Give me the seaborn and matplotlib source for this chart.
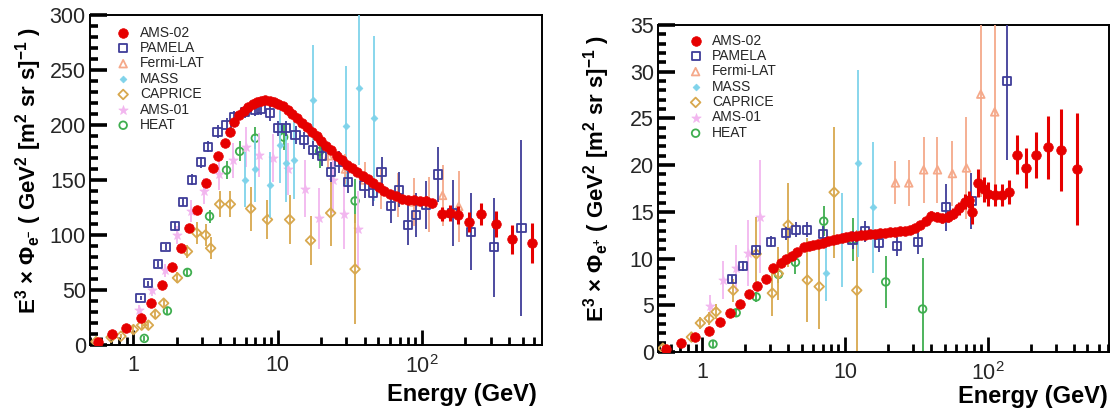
import numpy as np
import pandas as pd
import matplotlib
matplotlib.use("Agg")
import matplotlib.pyplot as plt
from matplotlib.ticker import FixedLocator, NullFormatter
import seaborn as sns

# ---------------- electron flux, E^3 x Phi(e-) ----------------
ele_ams02_E = [0.57, 0.71, 0.89, 1.12, 1.33, 1.57, 1.84, 2.13, 2.43, 2.78, 3.16, 3.54, 3.86,
               4.28, 4.64, 5.0, 5.4, 5.8, 6.2, 6.7, 7.2, 7.7, 8.2, 8.8, 9.4, 10.1, 10.9, 11.7,
               12.6, 13.6, 14.7, 15.9, 17.2, 18.6, 20.1, 21.8, 23.6, 25.6, 27.8, 30.2, 32.8,
               35.7, 38.8, 42.3, 46.1, 50.3, 55.0, 60.2, 66.0, 72.5, 79.8, 88.0, 97.2, 107,
               118, 137, 156, 178, 212, 257, 324, 420, 580]
ele_ams02_F = [3, 10, 15.5, 25, 38, 54.5, 70.5, 88.5, 106.5, 123, 147, 161, 172, 184, 194,
               203, 209, 213, 216, 219, 221, 222, 223, 222, 221, 219, 217, 214, 210, 206, 202,
               198, 194, 190, 185, 181, 177, 172, 168, 164, 161, 157, 154, 151, 147, 144, 140,
               137, 135, 133, 132, 132, 131, 131, 129, 119, 120, 118, 112, 119, 110, 96, 93]
ele_ams02_err = [1, 1, 1, 1, 1.5, 1.5, 2, 2, 2.5, 2.5, 3, 3, 3, 3, 3, 3, 3, 3, 3, 3, 3, 3,
                 3, 3, 3, 3, 3, 3, 3, 3, 3, 3, 3, 3, 3, 3, 3, 3, 3, 3, 3, 3, 3, 3, 3, 3, 3,
                 3, 3, 3, 3, 3.5, 3.5, 4, 4, 6, 7, 8, 9, 10, 12, 13, 18]

ele_pamela_E = [1.12, 1.27, 1.47, 1.67, 1.93, 2.2, 2.53, 2.92, 3.31, 3.83, 4.42, 5.0, 5.9,
                7.0, 7.7, 8.8, 10.0, 11.5, 13.3, 15.2, 17.5, 20.2, 23.3, 26.5, 30.6, 40,
                45.7, 52.5, 61, 69.6, 80, 91, 106, 129, 163, 218, 316, 490]
ele_pamela_F = [43, 56, 73.6, 89, 108, 130, 150, 166, 180, 194, 200, 207, 212, 214, 215, 211,
                197, 197, 191, 186, 177, 172, 157, 166, 148, 145, 138, 157, 126, 141, 109,
                118, 127, 155, 120, 103, 89, 106]
ele_pamela_err = [2, 2, 3, 3, 4, 4, 5, 5, 5, 6, 6, 6, 6, 6, 6, 7, 7, 7, 8, 8, 8, 9, 9, 10,
                  10, 11, 12, 14, 15, 16, 18, 20, 22, 25, 30, 35, 45, 80]

ele_fermi_E = [22.5, 29.5, 40, 52, 68, 88, 112, 139, 180]
ele_fermi_F = [172, 160, 150, 142, 136, 130, 128, 136, 126]
ele_fermi_err = [12, 14, 16, 18, 20, 22, 25, 28, 32]

ele_mass_E = [5.9, 7.0, 8.8, 10.3, 11.5, 12.9, 17.5, 30.0, 36.6, 46.4]
ele_mass_F = [150, 160, 145, 182, 165, 168, 223, 199, 234, 206]
ele_mass_err = [25, 30, 30, 35, 35, 35, 50, 55, 70, 75]

ele_caprice_E = [0.55, 0.7, 0.82, 1.0, 1.14, 1.27, 1.42, 1.62, 2.02, 2.37, 2.74, 3.16, 3.43,
                 3.96, 4.7, 6.5, 8.5, 12.1, 16.9, 23.3, 34.4]
ele_caprice_F = [3, 7, 8, 14, 18, 18, 28, 38, 61, 85, 102, 100, 88, 128, 128, 124, 114, 114,
                 95, 120, 69]
ele_caprice_err = [1, 2, 2, 3, 3, 3, 4, 4, 5, 6, 10, 10, 10, 12, 12, 20, 18, 22, 22, 30, 50]

ele_ams01_E = [1.1, 1.35, 1.65, 2.0, 2.5, 3.1, 3.9, 4.9, 6.0, 7.4, 9.3, 11.8, 15.4, 19.2, 24,
               29, 36]
ele_ams01_F = [32, 50, 68, 100, 122, 140, 155, 168, 180, 173, 170, 160, 142, 115, 150, 119, 105]
ele_ams01_err = [4, 5, 6, 8, 10, 12, 14, 16, 18, 20, 22, 24, 26, 28, 30, 32, 35]

ele_heat_E = [1.19, 1.72, 2.37, 3.37, 4.42, 5.45, 7.0, 11.0, 19.5, 34.4]
ele_heat_F = [6, 31, 66, 117, 159, 176, 188, 189, 176, 131]
ele_heat_err = [2, 3, 4, 6, 8, 9, 10, 12, 15, 20]

# ---------------- positron flux, E^3 x Phi(e+) ----------------
pos_ams02_E = [0.56, 0.71, 0.89, 1.12, 1.34, 1.57, 1.85, 2.14, 2.43, 2.81, 3.15, 3.58, 3.89,
               4.28, 4.65, 5.2, 5.6, 6.0, 6.5, 7.0, 7.6, 8.2, 8.8, 9.5, 10.2, 11.0, 11.9,
               12.9, 13.9, 15.0, 16.2, 17.5, 19.0, 20.6, 22.3, 24.2, 26.2, 28.5, 31.0, 33.8,
               36.8, 40.1, 43.9, 48.0, 52.5, 57.5, 63.0, 69.5, 73.5, 78, 85, 94, 100, 112,
               125, 140, 160, 185, 218, 265, 325, 425]
pos_ams02_F = [0.3, 1.0, 1.6, 2.2, 3.2, 4.2, 5.1, 6.2, 7.1, 7.8, 9.0, 9.5, 10.0, 10.3, 10.7,
               11.2, 11.3, 11.5, 11.6, 11.7, 11.9, 12.0, 12.1, 12.2, 12.3, 12.4, 12.4, 12.5,
               12.5, 12.6, 12.6, 12.7, 12.7, 12.8, 12.8, 12.9, 13.0, 13.1, 13.3, 13.6, 14.0,
               14.6, 14.5, 14.3, 14.5, 14.8, 15.4, 16.1, 16.3, 15.0, 18.1, 17.4, 16.9, 16.8,
               16.8, 17.1, 21.1, 19.7, 21.1, 21.9, 21.6, 19.6]
pos_ams02_err = [0.1, 0.1, 0.1, 0.1, 0.1, 0.15, 0.15, 0.15, 0.2, 0.2, 0.2, 0.2, 0.2, 0.2,
                 0.2, 0.2, 0.2, 0.2, 0.2, 0.2, 0.2, 0.2, 0.2, 0.25, 0.25, 0.25, 0.25, 0.25,
                 0.25, 0.3, 0.3, 0.3, 0.3, 0.3, 0.3, 0.35, 0.35, 0.4, 0.4, 0.4, 0.45, 0.5,
                 0.5, 0.5, 0.55, 0.6, 0.7, 0.8, 0.9, 1.3, 1.5, 1.3, 1.3, 1.2, 1.2, 1.3, 2.1,
                 2.1, 2.5, 3.4, 4.4, 6.0]

pos_pamela_E = [1.62, 1.94, 2.39, 3.05, 3.89, 4.57, 5.45, 7.0, 11.3, 13.9, 17.2, 23, 32.7,
                51, 77, 136]
pos_pamela_F = [7.8, 9.2, 10.9, 11.8, 12.7, 13.1, 13.1, 12.6, 12.0, 12.9, 11.7, 11.3, 11.8,
                15.5, 16.2, 29]
pos_pamela_err = [0.4, 0.5, 0.5, 0.6, 0.7, 0.8, 0.8, 0.9, 1.0, 1.1, 1.0, 1.0, 1.3, 2.5, 3.0,
                  8.5]

pos_fermi_E = [22.6, 28, 35.6, 44.5, 56.6, 71, 89.5, 112]
pos_fermi_F = [18.1, 18.1, 19.5, 19.5, 19.1, 19.7, 27.6, 25.7]
pos_fermi_err = [2.3, 2.5, 3.5, 3.5, 3.5, 5.5, 11, 10]

pos_mass_E = [7.4, 9.5, 12.3, 15.8]
pos_mass_F = [8.5, 12, 20.2, 15.5]
pos_mass_err = [3, 5, 10, 7]

pos_caprice_E = [0.53, 0.84, 0.97, 1.12, 1.25, 1.65, 2.39, 3.1, 3.42, 4.0, 5.45, 6.6, 8.4,
                 12.1]
pos_caprice_F = [0.4, 1.6, 3.1, 3.6, 4.3, 6.6, 10.5, 6.3, 8.4, 13.6, 7.7, 7.0, 17.1, 6.6]
pos_caprice_err = [0.3, 0.4, 0.6, 0.7, 0.8, 1.2, 4.0, 2.5, 2.8, 4.5, 4.5, 4.5, 7.0, 6.5]

pos_ams01_E = [1.14, 1.4, 1.73, 2.1, 2.55]
pos_ams01_F = [4.9, 7.7, 9.0, 10.6, 14.5]
pos_ams01_err = [1.2, 2.0, 2.5, 3.5, 6.0]

pos_heat_E = [1.19, 1.73, 2.39, 3.42, 4.5, 7.1, 11.3, 19.3, 35]
pos_heat_F = [0.85, 4.2, 5.9, 8.3, 9.6, 14.0, 12.0, 7.5, 4.6]
pos_heat_err = [0.3, 0.4, 0.5, 0.9, 1.2, 1.6, 2.3, 2.8, 5.5]

experiments = ["AMS-02", "PAMELA", "Fermi-LAT", "MASS", "CAPRICE", "AMS-01", "HEAT"]

# colour, marker, filled, marker area, bar width
styles = {
    "AMS-02":    ("#e60000", "o", True, 48, 2.2),
    "PAMELA":    ("#3f3d99", "s", False, 34, 1.3),
    "Fermi-LAT": ("#f5a98a", "^", False, 30, 1.3),
    "MASS":      ("#7fd3ea", "D", True, 12, 1.3),
    "CAPRICE":   ("#d8a84e", "D", False, 24, 1.3),
    "AMS-01":    ("#f2b6ef", "*", True, 50, 1.3),
    "HEAT":      ("#3fae4f", "o", False, 30, 1.3),
}

electron_sets = {
    "AMS-02": (ele_ams02_E, ele_ams02_F, ele_ams02_err),
    "PAMELA": (ele_pamela_E, ele_pamela_F, ele_pamela_err),
    "Fermi-LAT": (ele_fermi_E, ele_fermi_F, ele_fermi_err),
    "MASS": (ele_mass_E, ele_mass_F, ele_mass_err),
    "CAPRICE": (ele_caprice_E, ele_caprice_F, ele_caprice_err),
    "AMS-01": (ele_ams01_E, ele_ams01_F, ele_ams01_err),
    "HEAT": (ele_heat_E, ele_heat_F, ele_heat_err),
}
positron_sets = {
    "AMS-02": (pos_ams02_E, pos_ams02_F, pos_ams02_err),
    "PAMELA": (pos_pamela_E, pos_pamela_F, pos_pamela_err),
    "Fermi-LAT": (pos_fermi_E, pos_fermi_F, pos_fermi_err),
    "MASS": (pos_mass_E, pos_mass_F, pos_mass_err),
    "CAPRICE": (pos_caprice_E, pos_caprice_F, pos_caprice_err),
    "AMS-01": (pos_ams01_E, pos_ams01_F, pos_ams01_err),
    "HEAT": (pos_heat_E, pos_heat_F, pos_heat_err),
}

sns.set_theme(style="white")
plt.rcParams.update({
    "font.family": ["Liberation Sans", "DejaVu Sans"],
    "mathtext.fontset": "custom",
    "mathtext.rm": "Liberation Sans",
    "mathtext.it": "Liberation Sans:italic",
    "mathtext.bf": "Liberation Sans:bold",
    "axes.axisbelow": False,
    "axes.edgecolor": "black",
    "xtick.bottom": True,
    "ytick.left": True,
    "xtick.top": False,
    "ytick.right": False,
    "xtick.direction": "in",
    "ytick.direction": "in",
})

fig = plt.figure(figsize=(11.13, 4.15), dpi=100)
W, H = 1113, 415
ax_e = fig.add_axes([90 / W, (H - 345) / H, 452 / W, 330 / H])
ax_p = fig.add_axes([658 / W, (H - 352) / H, 451 / W, 327 / H])


def draw_sets(ax, sets):
    draw_order = ["HEAT", "AMS-01", "CAPRICE", "MASS", "Fermi-LAT", "PAMELA", "AMS-02"]
    for z, name in enumerate(draw_order):
        E, F, err = sets[name]
        col, mk, filled, area, blw = styles[name]
        df = pd.DataFrame({"E": E, "F": F, "err": err})
        ax.errorbar(df["E"], df["F"], yerr=df["err"], fmt="none", ecolor=col,
                    elinewidth=blw, capsize=0, zorder=2 + z)
        if filled:
            sns.scatterplot(data=df, x="E", y="F", ax=ax, marker=mk, s=area, color=col,
                            edgecolor=col, linewidth=0.5, label=name, zorder=2.5 + z)
        else:
            sns.scatterplot(data=df, x="E", y="F", ax=ax, marker=mk, s=area,
                            facecolor="none", edgecolor=col, linewidth=1.3,
                            label=name, zorder=2.5 + z)


def style_axes(ax, ymax, ymajor, yminor, xlim, anchor):
    ax.set_xscale("log")
    ax.set_xlim(*xlim)
    ax.set_ylim(0, ymax)
    ax.xaxis.set_major_locator(FixedLocator([1, 10, 100]))
    ax.set_xticklabels(["1", "10", r"$10^2$"])
    minors = [m * d for d in (0.1, 1, 10, 100) for m in range(2, 10)]
    ax.xaxis.set_minor_locator(FixedLocator(minors))
    ax.xaxis.set_minor_formatter(NullFormatter())
    ax.yaxis.set_major_locator(FixedLocator(list(np.arange(0, ymax + 0.5 * ymajor, ymajor))))
    ax.yaxis.set_minor_locator(FixedLocator(list(np.arange(0, ymax + 0.5 * yminor, yminor))))
    ax.yaxis.set_minor_formatter(NullFormatter())
    ax.set_axisbelow(False)
    # inward ticks on the bottom and left axes only
    ax.tick_params(axis="x", which="major", direction="in", length=11, width=2.0,
                   color="black", labelsize=15.5, pad=7, bottom=True, top=False)
    ax.tick_params(axis="x", which="minor", direction="in", length=5.5, width=2.0,
                   color="black", bottom=True, top=False)
    ax.tick_params(axis="y", which="major", direction="in", length=12, width=2.6,
                   color="black", labelsize=15.5, pad=3, left=True, right=False)
    ax.tick_params(axis="y", which="minor", direction="in", length=6, width=2.6,
                   color="black", left=True, right=False)
    for sp in ax.spines.values():
        sp.set_visible(True)
        sp.set_color("black")
        sp.set_linewidth(1.4)
    ax.grid(False)
    handles, labels = ax.get_legend_handles_labels()
    lookup = dict(zip(labels, handles))
    ax.legend([lookup[n] for n in experiments], experiments, loc="upper left",
              frameon=False, fontsize=10, borderpad=0, borderaxespad=0,
              handlelength=1.0, handletextpad=0.7, labelspacing=0.1,
              bbox_to_anchor=anchor)


draw_sets(ax_e, electron_sets)
draw_sets(ax_p, positron_sets)

style_axes(ax_e, 300, 50, 10, (0.5, 680), (0.058, 0.968))
style_axes(ax_p, 35, 5, 1, (0.49, 708), (0.068, 0.974))

ax_e.set_ylabel(r"E$^{\mathbf{3}}$ × Φ$_{\mathbf{e^{-}}}$ ( GeV$^{\mathbf{2}}$ [m$^{\mathbf{2}}$ sr s]$^{\mathbf{-1}}$ )",
                fontsize=16, fontweight="bold", color="black")
ax_p.set_ylabel(r"E$^{\mathbf{3}}$ × Φ$_{\mathbf{e^{+}}}$ ( GeV$^{\mathbf{2}}$ [m$^{\mathbf{2}}$ sr s]$^{\mathbf{-1}}$ )",
                fontsize=16, fontweight="bold", color="black")
ax_e.yaxis.set_label_coords((44 - 90) / 452, 0.53)
ax_p.yaxis.set_label_coords((612 - 658) / 451, 0.53)

for ax, xr, yr in ((ax_e, 0.989, -0.114), (ax_p, 0.998, -0.102)):
    ax.set_xlabel("Energy (GeV)", fontsize=17, fontweight="bold", loc="right",
                  color="black")
    ax.xaxis.set_label_coords(xr, yr)
    ax.xaxis.label.set_verticalalignment("top")

fig.savefig("out.png", dpi=100, facecolor="white")
